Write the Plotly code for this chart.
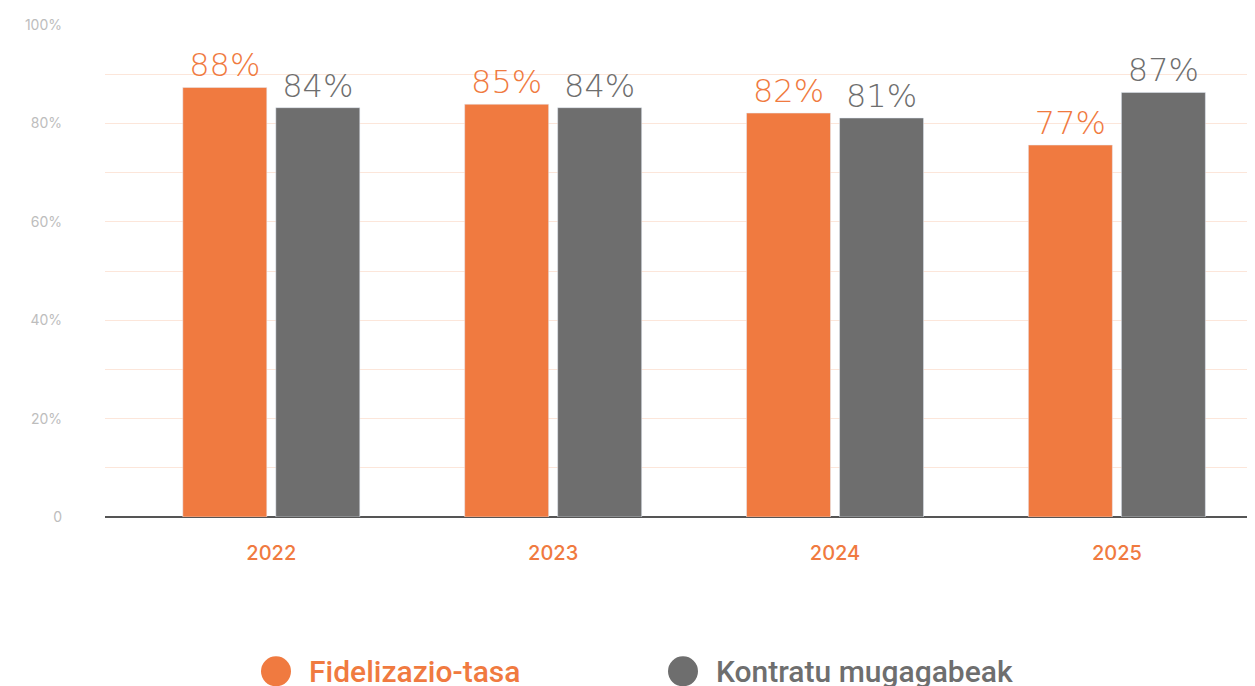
import plotly.graph_objects as go

years = ['2022', '2023', '2024', '2025']
fidelizazio = [87.3, 83.9, 82.1, 75.6]
fidelizazio_labels = ['88%', '85%', '82%', '77%']
kontratu = [83.2, 83.2, 81.1, 86.3]
kontratu_labels = ['84%', '84%', '81%', '87%']
y_ticks = [0, 10, 20, 30, 40, 50, 60, 70, 80, 90, 100]
y_ticktext = ['0', '', '20%', '', '40%', '', '60%', '', '80%', '', '100%']
legend_names = ['Fidelizazio-tasa', 'Kontratu mugagabeak']

orange = '#f07a40'
gray = '#6e6e6e'
label_font = 'DejaVu Sans'

fig = go.Figure()
fig.add_trace(go.Bar(x=years, y=fidelizazio, text=fidelizazio_labels, name=legend_names[0],
                     marker_color=orange, textposition='outside', cliponaxis=False,
                     textfont=dict(size=32, color=orange, family=label_font, weight=300)))
fig.add_trace(go.Bar(x=years, y=kontratu, text=kontratu_labels, name=legend_names[1],
                     marker_color=gray, textposition='outside', cliponaxis=False,
                     textfont=dict(size=32, color=gray, family=label_font, weight=300)))

# page body adds 8px, so margins are shifted to compensate
fig.update_layout(
    barmode='group', bargap=0.34, bargroupgap=0.097,
    width=1255, height=686, showlegend=False,
    plot_bgcolor='white', paper_bgcolor='white',
    margin=dict(l=97, r=8, t=15, b=177),
    font=dict(family='Inter'),
)
fig.update_xaxes(range=[-0.59, 3.49], showgrid=False, showline=False, zeroline=False,
                 ticks='', ticklabelstandoff=22,
                 tickfont=dict(size=20, color=orange, family='Inter', weight=500))
fig.update_yaxes(range=[0, 100], tickvals=y_ticks, ticktext=y_ticktext,
                 gridcolor='#fce6da', gridwidth=1, zeroline=True, zerolinecolor='#555555',
                 zerolinewidth=1.5, ticklabelstandoff=42,
                 tickfont=dict(size=14, color='#bdbdbd', family='Inter'))

# legend drawn by hand so the circles can be large
legend_items = [(legend_names[0], orange, 276), (legend_names[1], gray, 683)]
for name, col, px_x in legend_items:
    xp = (px_x - 105) / 1150
    yp = (517 - 672) / 494
    fig.add_shape(type='circle', xref='paper', yref='paper', xsizemode='pixel', ysizemode='pixel',
                  xanchor=xp, yanchor=yp, x0=-15, x1=15, y0=-15, y1=15,
                  fillcolor=col, line_width=0)
    fig.add_annotation(xref='paper', yref='paper', x=xp, y=yp, xshift=31, xanchor='left',
                       yanchor='middle', text=name, showarrow=False,
                       font=dict(size=30, color=col, family='Roboto', weight=500))

fig.write_html("out.html")
